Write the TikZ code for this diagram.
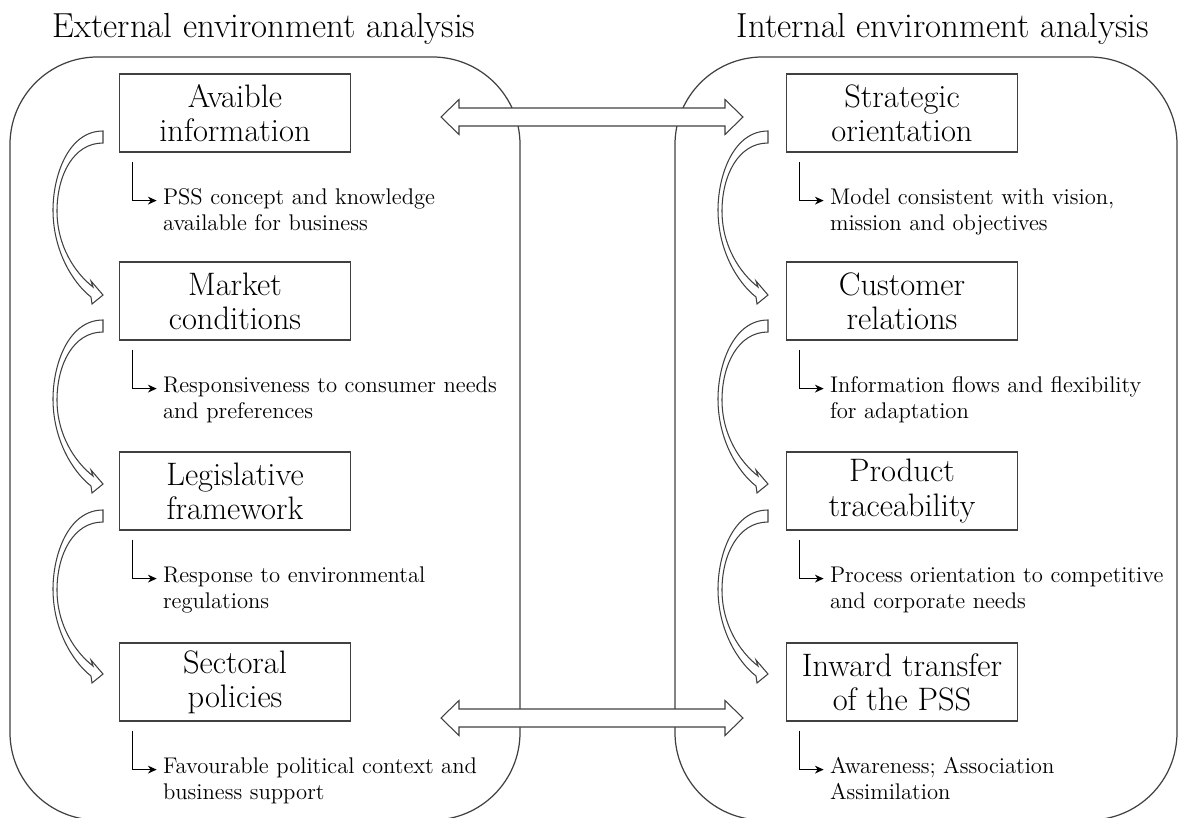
\documentclass[tikz,border=0pt]{standalone}
\usepackage{fontspec}
\usetikzlibrary{calc,arrows.meta}
\definecolor{linegrey}{RGB}{64,64,64}
\tikzset{
    panel/.style={
        draw=linegrey,
        line width=0.7pt,
        rounded corners=1.75cm
    },
    factor/.style={
        draw=linegrey,
        line width=0.7pt,
        minimum width=4.63cm,
        minimum height=1.56cm,
        inner sep=0pt,
        align=center,
        font=\fontsize{18.5}{19.5}\selectfont
    },
    remark/.style={
        anchor=base west,
        inner sep=0pt,
        text width=7cm,
        align=left,
        font=\fontsize{12.9}{15}\selectfont
    },
    elbow/.style={
        draw=black,
        line width=0.6pt,
        -{Stealth[length=5pt,width=4.5pt]}
    },
    heading/.style={
        anchor=base,
        font=\fontsize{19.8}{22}\selectfont
    },
    hollow/.style={
        draw=linegrey,
        line width=0.6pt,
        fill=white
    }
}

\begin{document}
\begin{tikzpicture}[x=0.02cm,y=-0.02cm]
    \useasboundingbox (0,0) rectangle (1181,818);
    \clip (0,0) rectangle (1181,818);

    % Titles
    \node[heading] (exttitle) at (264,37) {External environment analysis};
    \node[heading] (inttitle) at (943,37) {Internal environment analysis};

    % Panels
    \draw[panel] (10,57) rectangle (520,820);
    \draw[panel] (675,57) rectangle (1177,820);

    % Links between panels
    \foreach \y in {117,718} {
        \draw[hollow] (441,\y) -- ++(18,-17.5) -- ++(0,8.5) -- (725,\y-9)
            -- ++(0,-8.5) -- (743,\y) -- ++(-18,17.5) -- ++(0,-8.5)
            -- (459,\y+9) -- ++(0,8.5) -- cycle;
    }

    % Curved arrows
    \foreach \x/\y in {103/131, 103/320, 103/510, 768/131, 768/320, 768/510} {
        \draw[hollow, shift={(\x,\y)}] (0,0)
            .. controls (-35,0) and (-50,45) .. (-50,79)
            .. controls (-50,120) and (-30,152) .. (-12,166)
            -- (-11,173) -- (0,164) -- (-12,150) -- (-10,156)
            .. controls (-28,142) and (-46,115) .. (-46,80)
            .. controls (-46,45) and (-30,12) .. (0,12) -- cycle;
    }

    % External factors
    \node[factor] (ext1) at (235,113) {Avaible\\information};
    \node[factor] (ext2) at (235,301) {Market\\conditions};
    \node[factor] (ext3) at (235,491) {Legislative\\framework};
    \node[factor] (ext4) at (235,682) {Sectoral\\policies};

    % Internal factors
    \node[factor] (int1) at (902,113) {Strategic\\orientation};
    \node[factor] (int2) at (902,301) {Customer\\relations};
    \node[factor] (int3) at (902,491) {Product\\traceability};
    \node[factor] (int4) at (902,682) {Inward transfer\\of the PSS};

    % Remarks
    \foreach \f/\lbl in {
        ext1/{PSS concept and knowledge\\available for business},
        ext2/{Responsiveness to consumer needs\\and preferences},
        ext3/{Response to environmental\\regulations},
        ext4/{Favourable political context and\\business support},
        int1/{Model consistent with vision,\\mission and objectives},
        int2/{Information flows and flexibility\\for adaptation},
        int3/{Process orientation to competitive\\and corporate needs},
        int4/{Awareness; Association\\Assimilation}} {
        \node[remark] (\f note) at ($(\f.south west)+(44,52)$) {\lbl};
        \draw[elbow] ($(\f.south west)+(14,9)$) |- ($(\f note.base west)+(-6,-4)$);
    }
\end{tikzpicture}
\end{document}
